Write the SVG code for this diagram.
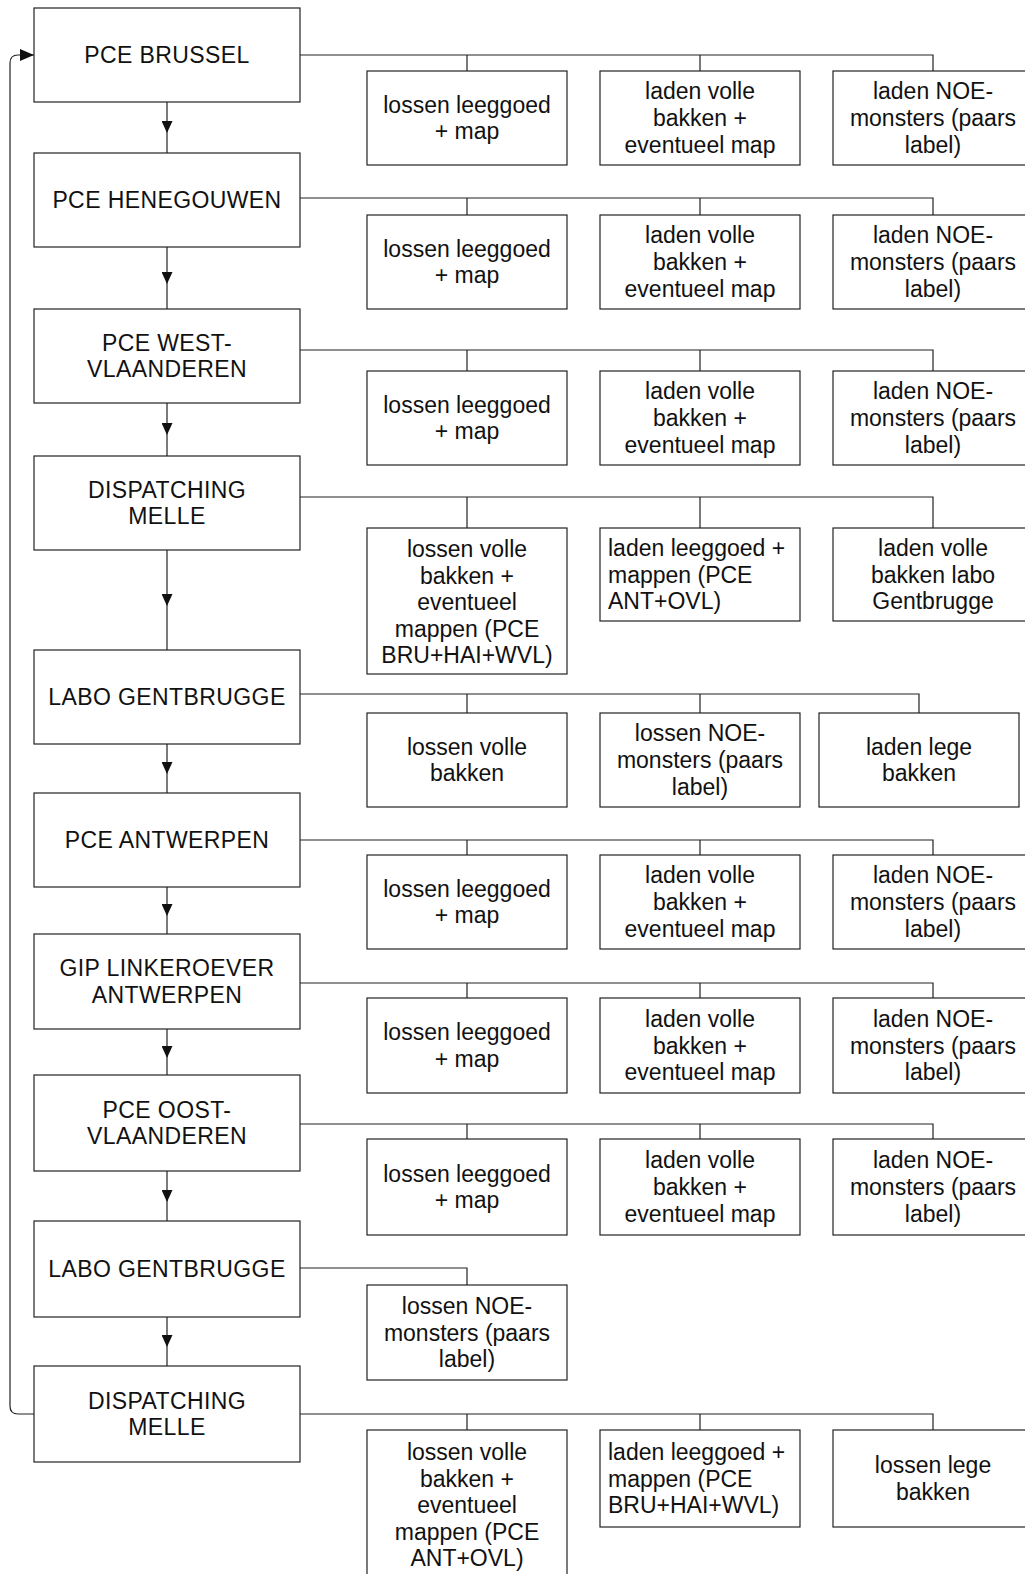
<svg xmlns="http://www.w3.org/2000/svg" width="1025" height="1574" viewBox="0 0 1025 1574">
<style>
rect{fill:#fff;stroke:#222;stroke-width:1.2}
text{font-family:"Liberation Sans",Arial,sans-serif;font-size:23px;fill:#111;text-anchor:middle}
text.l{text-anchor:start}
text.n{letter-spacing:0.4px}
.c path{fill:none;stroke:#222;stroke-width:1.2}
</style>
<defs>
<marker id="ah" viewBox="0 0 10 10" refX="5" refY="5" markerWidth="12" markerHeight="11" markerUnits="userSpaceOnUse" orient="auto" preserveAspectRatio="none"><path d="M0,0 L10,5 L0,10 z" fill="#111"/></marker>
<marker id="ae" viewBox="0 0 10 10" refX="10" refY="5" markerWidth="14" markerHeight="12" markerUnits="userSpaceOnUse" orient="auto" preserveAspectRatio="none"><path d="M0,0 L10,5 L0,10 z" fill="#111"/></marker>
</defs>
<g class="c" id="connectors">
<path d="M167,102 V127 V153" marker-mid="url(#ah)"/>
<path d="M167,247 V278 V309" marker-mid="url(#ah)"/>
<path d="M167,403 V429 V456" marker-mid="url(#ah)"/>
<path d="M167,550 V600 V650" marker-mid="url(#ah)"/>
<path d="M167,744 V768 V793" marker-mid="url(#ah)"/>
<path d="M167,887 V910 V934" marker-mid="url(#ah)"/>
<path d="M167,1029 V1052 V1075" marker-mid="url(#ah)"/>
<path d="M167,1171 V1196 V1221" marker-mid="url(#ah)"/>
<path d="M167,1317 V1341 V1366" marker-mid="url(#ah)"/>
<path d="M34,1414 H18 Q10,1414 10,1406 V63 Q10,55 18,55 H34" marker-end="url(#ae)"/>
<path d="M300,55 H933 V71 M467,55 V71 M700,55 V71"/>
<path d="M300,198 H933 V215 M467,198 V215 M700,198 V215"/>
<path d="M300,350 H933 V371 M467,350 V371 M700,350 V371"/>
<path d="M300,497 H933 V528 M467,497 V528 M700,497 V528"/>
<path d="M300,694 H919 V713 M467,694 V713 M700,694 V713"/>
<path d="M300,840 H933 V855 M467,840 V855 M700,840 V855"/>
<path d="M300,983 H933 V998 M467,983 V998 M700,983 V998"/>
<path d="M300,1124 H933 V1139 M467,1124 V1139 M700,1124 V1139"/>
<path d="M300,1268 H467 V1285"/>
<path d="M300,1414 H933 V1430 M467,1414 V1430 M700,1414 V1430"/>
</g>
<g id="n1"><rect x="34" y="8" width="266" height="94"/><text class="n" x="167" y="63">PCE BRUSSEL</text></g>
<g id="n2"><rect x="34" y="153" width="266" height="94"/><text class="n" x="167" y="208">PCE HENEGOUWEN</text></g>
<g id="n3"><rect x="34" y="309" width="266" height="94"/><text class="n" x="167" y="350.7">PCE WEST-</text><text class="n" x="167" y="377.3">VLAANDEREN</text></g>
<g id="n4"><rect x="34" y="456" width="266" height="94"/><text class="n" x="167" y="497.7">DISPATCHING</text><text class="n" x="167" y="524.3">MELLE</text></g>
<g id="n5"><rect x="34" y="650" width="266" height="94"/><text class="n" x="167" y="705">LABO GENTBRUGGE</text></g>
<g id="n6"><rect x="34" y="793" width="266" height="94"/><text class="n" x="167" y="848">PCE ANTWERPEN</text></g>
<g id="n7"><rect x="34" y="934" width="266" height="95"/><text class="n" x="167" y="976.2">GIP LINKEROEVER</text><text class="n" x="167" y="1002.8">ANTWERPEN</text></g>
<g id="n8"><rect x="34" y="1075" width="266" height="96"/><text class="n" x="167" y="1117.7">PCE OOST-</text><text class="n" x="167" y="1144.3">VLAANDEREN</text></g>
<g id="n9"><rect x="34" y="1221" width="266" height="96"/><text class="n" x="167" y="1277">LABO GENTBRUGGE</text></g>
<g id="n10"><rect x="34" y="1366" width="266" height="96"/><text class="n" x="167" y="1408.7">DISPATCHING</text><text class="n" x="167" y="1435.3">MELLE</text></g>

<g id="r1a"><rect x="367" y="71" width="200" height="94"/><text x="467" y="112.7">lossen leeggoed</text><text x="467" y="139.3">+ map</text></g>
<g id="r1b"><rect x="600" y="71" width="200" height="94"/><text x="700" y="99.4">laden volle</text><text x="700" y="126">bakken +</text><text x="700" y="152.6">eventueel map</text></g>
<g id="r1c"><rect x="833" y="71" width="200" height="94"/><text x="933" y="99.4">laden NOE-</text><text x="933" y="126">monsters (paars</text><text x="933" y="152.6">label)</text></g>

<g id="r2a"><rect x="367" y="215" width="200" height="94"/><text x="467" y="256.7">lossen leeggoed</text><text x="467" y="283.3">+ map</text></g>
<g id="r2b"><rect x="600" y="215" width="200" height="94"/><text x="700" y="243.4">laden volle</text><text x="700" y="270">bakken +</text><text x="700" y="296.6">eventueel map</text></g>
<g id="r2c"><rect x="833" y="215" width="200" height="94"/><text x="933" y="243.4">laden NOE-</text><text x="933" y="270">monsters (paars</text><text x="933" y="296.6">label)</text></g>

<g id="r3a"><rect x="367" y="371" width="200" height="94"/><text x="467" y="412.7">lossen leeggoed</text><text x="467" y="439.3">+ map</text></g>
<g id="r3b"><rect x="600" y="371" width="200" height="94"/><text x="700" y="399.4">laden volle</text><text x="700" y="426">bakken +</text><text x="700" y="452.6">eventueel map</text></g>
<g id="r3c"><rect x="833" y="371" width="200" height="94"/><text x="933" y="399.4">laden NOE-</text><text x="933" y="426">monsters (paars</text><text x="933" y="452.6">label)</text></g>

<g id="r4a"><rect x="367" y="528" width="200" height="146"/><text x="467" y="557">lossen volle</text><text x="467" y="583.6">bakken +</text><text x="467" y="610.2">eventueel</text><text x="467" y="636.8">mappen (PCE</text><text x="467" y="663.4">BRU+HAI+WVL)</text></g>
<g id="r4b"><rect x="600" y="528" width="200" height="93"/><text class="l" x="608" y="556">laden leeggoed +</text><text class="l" x="608" y="582.6">mappen (PCE</text><text class="l" x="608" y="609.2">ANT+OVL)</text></g>
<g id="r4c"><rect x="833" y="528" width="200" height="93"/><text x="933" y="556">laden volle</text><text x="933" y="582.6">bakken labo</text><text x="933" y="609.2">Gentbrugge</text></g>

<g id="r5a"><rect x="367" y="713" width="200" height="94"/><text x="467" y="754.7">lossen volle</text><text x="467" y="781.3">bakken</text></g>
<g id="r5b"><rect x="600" y="713" width="200" height="94"/><text x="700" y="741.4">lossen NOE-</text><text x="700" y="768">monsters (paars</text><text x="700" y="794.6">label)</text></g>
<g id="r5c"><rect x="819" y="713" width="200" height="94"/><text x="919" y="754.7">laden lege</text><text x="919" y="781.3">bakken</text></g>

<g id="r6a"><rect x="367" y="855" width="200" height="94"/><text x="467" y="896.7">lossen leeggoed</text><text x="467" y="923.3">+ map</text></g>
<g id="r6b"><rect x="600" y="855" width="200" height="94"/><text x="700" y="883.4">laden volle</text><text x="700" y="910">bakken +</text><text x="700" y="936.6">eventueel map</text></g>
<g id="r6c"><rect x="833" y="855" width="200" height="94"/><text x="933" y="883.4">laden NOE-</text><text x="933" y="910">monsters (paars</text><text x="933" y="936.6">label)</text></g>

<g id="r7a"><rect x="367" y="998" width="200" height="95"/><text x="467" y="1040.2">lossen leeggoed</text><text x="467" y="1066.8">+ map</text></g>
<g id="r7b"><rect x="600" y="998" width="200" height="95"/><text x="700" y="1026.9">laden volle</text><text x="700" y="1053.5">bakken +</text><text x="700" y="1080.1">eventueel map</text></g>
<g id="r7c"><rect x="833" y="998" width="200" height="95"/><text x="933" y="1026.9">laden NOE-</text><text x="933" y="1053.5">monsters (paars</text><text x="933" y="1080.1">label)</text></g>

<g id="r8a"><rect x="367" y="1139" width="200" height="96"/><text x="467" y="1181.7">lossen leeggoed</text><text x="467" y="1208.3">+ map</text></g>
<g id="r8b"><rect x="600" y="1139" width="200" height="96"/><text x="700" y="1168.4">laden volle</text><text x="700" y="1195">bakken +</text><text x="700" y="1221.6">eventueel map</text></g>
<g id="r8c"><rect x="833" y="1139" width="200" height="96"/><text x="933" y="1168.4">laden NOE-</text><text x="933" y="1195">monsters (paars</text><text x="933" y="1221.6">label)</text></g>

<g id="r9a"><rect x="367" y="1285" width="200" height="95"/><text x="467" y="1313.9">lossen NOE-</text><text x="467" y="1340.5">monsters (paars</text><text x="467" y="1367.1">label)</text></g>

<g id="r10a"><rect x="367" y="1430" width="200" height="160"/><text x="467" y="1460">lossen volle</text><text x="467" y="1486.6">bakken +</text><text x="467" y="1513.2">eventueel</text><text x="467" y="1539.8">mappen (PCE</text><text x="467" y="1566.4">ANT+OVL)</text></g>
<g id="r10b"><rect x="600" y="1430" width="200" height="97"/><text class="l" x="608" y="1460">laden leeggoed +</text><text class="l" x="608" y="1486.6">mappen (PCE</text><text class="l" x="608" y="1513.2">BRU+HAI+WVL)</text></g>
<g id="r10c"><rect x="833" y="1430" width="200" height="97"/><text x="933" y="1473.2">lossen lege</text><text x="933" y="1499.8">bakken</text></g>
</svg>
